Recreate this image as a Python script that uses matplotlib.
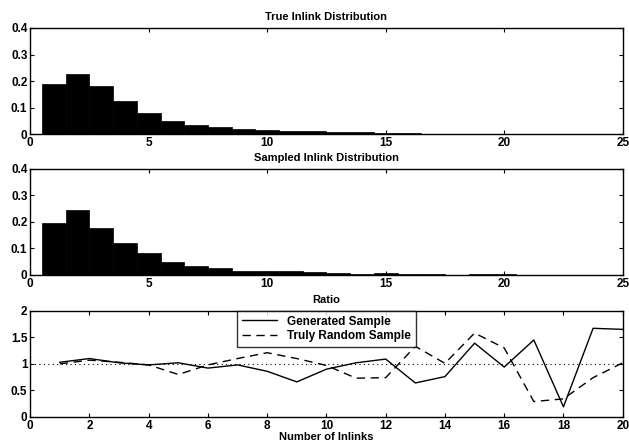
import matplotlib
matplotlib.use("Agg")
import matplotlib.pyplot as plt
import numpy as np

plt.rcParams['font.family'] = ['Liberation Sans', 'DejaVu Sans']
plt.rcParams['font.weight'] = 'bold'
plt.rcParams['font.size'] = 8

# inlink counts and distributions
inlinks = [1, 2, 3, 4, 5, 6, 7, 8, 9, 10, 11, 12, 13, 14, 15, 16, 17, 18, 19, 20]
true_dist = [0.19, 0.226, 0.18, 0.123, 0.08, 0.05, 0.035, 0.025, 0.018, 0.015,
             0.012, 0.01, 0.008, 0.006, 0.005, 0.003, 0.002, 0.002, 0.001, 0.001]
sampled_dist = [0.195, 0.245, 0.178, 0.12, 0.082, 0.048, 0.034, 0.024, 0.015, 0.015,
                0.013, 0.01, 0.006, 0.005, 0.006, 0.003, 0.004, 0.001, 0.002, 0.003]

# ratio of sampled to true
generated_ratio = [1.03, 1.1, 1.02, 0.98, 1.02, 0.92, 0.98, 0.86, 0.66, 0.9,
                   1.02, 1.09, 0.64, 0.76, 1.39, 0.94, 1.45, 0.19, 1.67, 1.65]
random_ratio = [1.0, 1.07, 1.03, 0.98, 0.8, 0.98, 1.1, 1.21, 1.1, 0.97,
                0.73, 0.74, 1.33, 1.01, 1.58, 1.3, 0.29, 0.34, 0.74, 1.02]

fig = plt.figure(figsize=(6.29, 4.44), dpi=100)
ax1 = fig.add_axes([0.048, 0.698, 0.942, 0.239])
ax2 = fig.add_axes([0.048, 0.381, 0.942, 0.239])
ax3 = fig.add_axes([0.048, 0.061, 0.942, 0.239])


def style(ax):
    ax.tick_params(direction='in', top=True, right=True, length=3, width=0.8,
                   labelsize=8.5, pad=2)
    for s in ax.spines.values():
        s.set_linewidth(1.0)


for ax, dist, title in [(ax1, true_dist, 'True Inlink Distribution'),
                        (ax2, sampled_dist, 'Sampled Inlink Distribution')]:
    ax.bar(inlinks, dist, width=1.0, color='black', edgecolor='black', linewidth=0.5)
    ax.set_xlim(0, 25)
    ax.set_ylim(0, 0.4)
    ax.set_xticks([0, 5, 10, 15, 20, 25])
    ax.set_yticks([0, 0.1, 0.2, 0.3, 0.4])
    ax.set_yticklabels(['0', '0.1', '0.2', '0.3', '0.4'])
    ax.set_title(title, fontsize=8, fontweight='bold', pad=5.5)
    style(ax)

ax3.plot(inlinks, generated_ratio, color='black', linewidth=1.0, label='Generated Sample')
ax3.plot(inlinks, random_ratio, color='black', linewidth=1.0, linestyle=(0, (6, 4)),
         label='Truly Random Sample')
ax3.axhline(1.0, color='black', linewidth=0.8, linestyle=(0, (1, 3)))
ax3.set_xlim(0, 20)
ax3.set_ylim(0, 2)
ax3.set_xticks(range(0, 21, 2))
ax3.set_yticks([0, 0.5, 1, 1.5, 2])
ax3.set_yticklabels(['0', '0.5', '1', '1.5', '2'])
ax3.set_title('Ratio', fontsize=8, fontweight='bold', pad=5.5)
ax3.set_xlabel('Number of Inlinks', fontsize=8, fontweight='bold', labelpad=0)
style(ax3)
leg = ax3.legend(loc='upper center', bbox_to_anchor=(0.5, 1.0), frameon=True,
                 fancybox=False, edgecolor='black', fontsize=8.5, handlelength=3.0,
                 borderpad=0.4, labelspacing=0.25, borderaxespad=0)
leg.get_frame().set_linewidth(1.0)

fig.savefig('out.png', dpi=100)
